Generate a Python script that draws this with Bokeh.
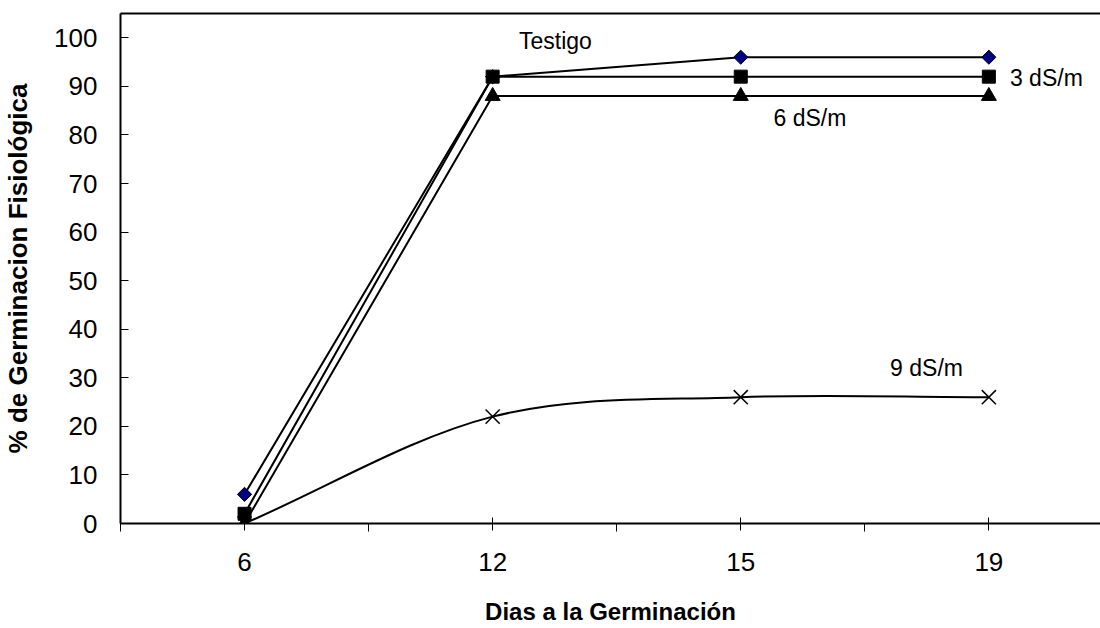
from bokeh.plotting import figure
from bokeh.models import Range1d, FixedTicker, LinearAxis
from bokeh.core.properties import value
from bokeh.embed import file_html
from bokeh.resources import INLINE
import numpy as np

# Germination data (% physiological germination) by day
days = ["6", "12", "15", "19"]
testigo = [6, 92, 96, 96]
ds3 = [2, 92, 92, 92]
ds6 = [0, 88, 88, 88]
ds9 = [0, 22, 26, 26]
y_ticks = list(range(0, 101, 10))

FONT = "Liberation Sans"

xs = np.arange(len(days)) + 0.5


def smooth_segments(x, y):
    """Cubic Bezier segments (Catmull-Rom style) through the points."""
    x = np.asarray(x, float)
    y = np.asarray(y, float)
    n = len(x)
    tx = np.empty(n)
    ty = np.empty(n)
    tx[1:-1] = (x[2:] - x[:-2]) / 2
    ty[1:-1] = (y[2:] - y[:-2]) / 2
    tx[0], ty[0] = x[1] - x[0], y[1] - y[0]
    tx[-1], ty[-1] = x[-1] - x[-2], y[-1] - y[-2]
    return dict(x0=x[:-1], y0=y[:-1], x1=x[1:], y1=y[1:],
                cx0=x[:-1] + tx[:-1] / 3, cy0=y[:-1] + ty[:-1] / 3,
                cx1=x[1:] - tx[1:] / 3, cy1=y[1:] - ty[1:] / 3)


def bare_axis(**kw):
    """Axis with no ticks or tick labels (used for borders and titles)."""
    ax = LinearAxis(ticker=FixedTicker(ticks=[]), **kw)
    ax.major_tick_out = 0
    ax.major_tick_in = 0
    ax.minor_tick_out = 0
    ax.minor_tick_in = 0
    ax.major_label_standoff = 0
    ax.major_label_text_font_size = "0px"
    return ax


p = figure(width=1100, height=628, x_range=Range1d(0, 3.95), y_range=Range1d(0, 105),
           output_backend="svg", toolbar_location=None, x_axis_location=None,
           y_axis_location=None, min_border_left=118, min_border_right=0,
           min_border_top=13, min_border_bottom=105)
p.outline_line_color = None
p.background_fill_color = "white"
p.border_fill_color = "white"
p.xgrid.visible = False
p.ygrid.visible = False

# Axes
xaxis = LinearAxis(ticker=FixedTicker(ticks=list(xs), minor_ticks=list(range(len(days) + 1))))
xaxis.major_label_overrides = {float(x): d for x, d in zip(xs, days)}
xaxis.axis_line_width = 2
xaxis.axis_line_color = "black"
xaxis.major_tick_in = 6
xaxis.major_tick_out = 7
xaxis.minor_tick_in = 0
xaxis.minor_tick_out = 8
xaxis.major_tick_line_color = "black"
xaxis.minor_tick_line_color = "black"
xaxis.major_label_text_font = FONT
xaxis.major_label_text_font_size = "26px"
xaxis.major_label_text_color = "black"
xaxis.major_label_standoff = 21
p.add_layout(xaxis, "below")

# x-axis title on its own line-less axis beneath the tick labels
xtitle = bare_axis(axis_label="Dias a la Germinación")
xtitle.axis_line_color = None
xtitle.axis_label_text_font = FONT
xtitle.axis_label_text_font_style = "bold"
xtitle.axis_label_text_font_size = "24px"
xtitle.axis_label_text_color = "black"
xtitle.axis_label_standoff = 24
p.add_layout(xtitle, "below")

yaxis = LinearAxis(ticker=FixedTicker(ticks=y_ticks, minor_ticks=[]))
yaxis.axis_line_width = 2
yaxis.axis_line_color = "black"
yaxis.major_tick_in = 8
yaxis.major_tick_out = 0
yaxis.major_tick_line_color = "black"
yaxis.major_label_text_font = FONT
yaxis.major_label_text_font_size = "26px"
yaxis.major_label_text_color = "black"
yaxis.major_label_standoff = 23
yaxis.axis_label = "% de Germinacion Fisiológica"
yaxis.axis_label_text_font = FONT
yaxis.axis_label_text_font_style = "bold"
yaxis.axis_label_text_font_size = "26px"
yaxis.axis_label_text_color = "black"
yaxis.axis_label_standoff = 18
p.add_layout(yaxis, "left")

# Top border line of the plot area
top = bare_axis()
top.axis_line_width = 2
top.axis_line_color = "black"
p.add_layout(top, "above")

# Series
p.line(xs, testigo, line_color="black", line_width=2)
p.scatter(xs, testigo, marker="square", angle=np.pi / 4, size=10,
          fill_color="#000080", line_color="black", line_width=1)

p.line(xs, ds3, line_color="black", line_width=2)
p.scatter(xs, ds3, marker="square", size=13, fill_color="black", line_color="black")

p.line(xs, ds6, line_color="black", line_width=2)
p.scatter(xs, ds6, marker="triangle", size=15, fill_color="black", line_color="black")

seg = smooth_segments(xs, ds9)
p.bezier(x0=seg["x0"], y0=seg["y0"], x1=seg["x1"], y1=seg["y1"],
         cx0=seg["cx0"], cy0=seg["cy0"], cx1=seg["cx1"], cy1=seg["cy1"],
         line_color="black", line_width=2)
p.scatter(xs, ds9, marker="x", size=20, line_color="black", line_width=1.5)

# Series labels
p.text(x=[1.606, 3.585, 2.632, 3.102], y=[99.4, 91.8, 83.5, 32.1],
       text=["Testigo", "3 dS/m", "6 dS/m", "9 dS/m"],
       text_font=value(FONT), text_font_size="23px", text_color="black",
       text_align="left", text_baseline="middle")

open("out.html", "w").write(file_html(p, INLINE))
